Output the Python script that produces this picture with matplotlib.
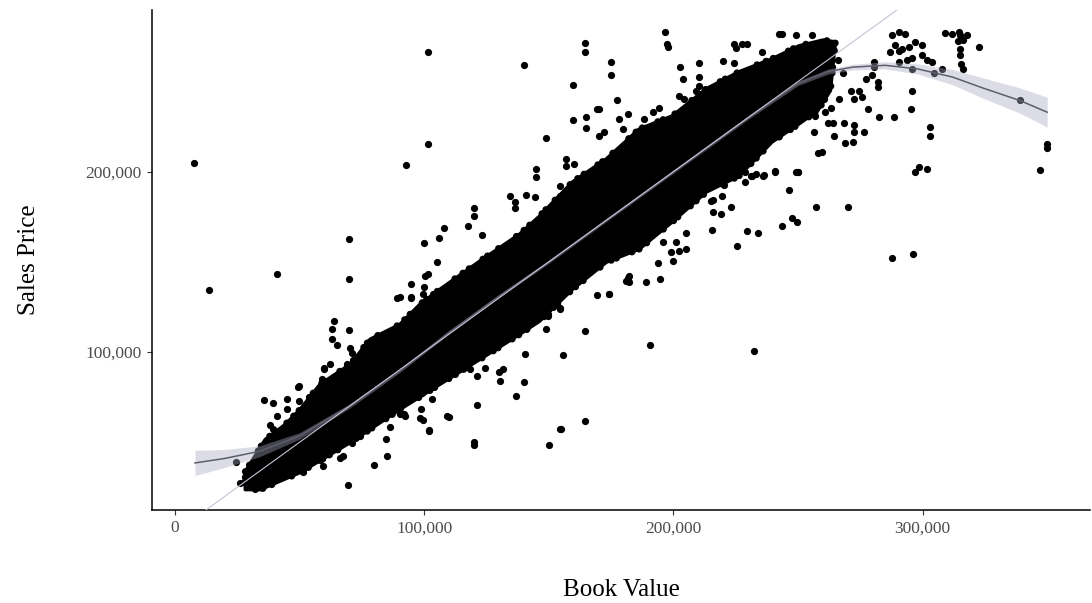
import numpy as np
import matplotlib
matplotlib.use("Agg")
import matplotlib.pyplot as plt
from matplotlib.ticker import FuncFormatter

plt.rcParams['font.family'] = ['Liberation Serif', 'DejaVu Serif']

# ---- data (values in $1,000) ----
# dense core of the cloud: upper and lower edge
core_upper_x = [28.2, 36.2, 44.2, 50.2, 58.2, 70.3, 78.3, 90.3, 98.3, 106.3, 122.3, 138.3, 146.3,
                159.5, 173.1, 186.3, 199.5, 213.2, 226.3, 239.6, 250.4, 260.0, 265.0]
core_upper_y = [33.7, 51.5, 59.8, 68.2, 82.1, 93.2, 107.1, 115.4, 126.5, 134.8, 150.4, 165.4, 175.4,
                194.3, 207.1, 223.7, 230.9, 246.0, 255.4, 262.6, 269.8, 273.0, 272.0]
core_lower_x = [28.2, 34.2, 50.2, 70.3, 90.3, 106.3, 122.3, 138.3, 146.3, 159.5, 173.1, 186.3,
                199.5, 213.2, 226.3, 239.6, 250.4, 258.0, 263.0]
core_lower_y = [23.7, 23.7, 33.2, 49.8, 68.2, 82.1, 95.9, 109.8, 117.1, 134.8, 149.8, 157.1,
                172.1, 188.7, 197.6, 216.5, 226.5, 234.0, 245.0]

# individually visible points
pts_x = [7.8, 13.8, 41.0, 69.9, 69.9, 101.5, 101.5, 92.7, 139.9, 164.7, 164.7, 196.8, 197.6,
         149.9, 154.3, 164.7, 119.9, 119.9, 190.7, 232.4, 257.2, 287.6, 296.0, 347.3, 350.1, 350.1,
         338.9, 69.5, 24.6,
         314.8, 314.2, 316.4, 322.8, 303.1, 303.1, 296.8, 298.7, 301.9, 246.4, 295.7, 295.5, 282.5,
         288.7, 277.9, 272.5, 272.5, 276.3, 272.0, 268.7, 264.4, 262.0, 264.1, 268.5, 256.5, 258.0,
         240.8, 249.9, 236.4, 233.1, 231.1,
         317.7, 314.9, 311.6, 309.0, 314.9, 314.9, 315.6, 316.4, 304.4, 307.6, 303.6, 301.6, 295.6,
         295.6, 280.4, 280.4, 277.1, 282.1, 282.1, 299.7, 297.1, 299.7, 294.4, 291.7, 289.1, 287.7,
         290.4, 293.1, 290.4, 287.1, 290.4, 293.8, 279.7, 272.4, 275.7, 274.4, 271.1, 266.4, 263.1,
         260.4, 270.0, 259.6,
         197.9, 175.0, 175.0, 202.6, 203.7, 210.1, 210.1, 177.4, 170.3, 219.9, 224.3, 224.3, 227.7,
         229.7, 225.0, 235.7, 242.4, 243.7, 249.1, 255.7, 250.0, 247.7, 249.7, 243.5, 229.7, 233.9,
         225.7, 240.7, 236.1, 228.7, 223.0, 215.3, 215.7, 178.3, 181.7, 179.7, 188.3, 191.7, 194.4,
         202.4, 204.4, 209.0, 210.4, 170.3, 172.3,
         159.6, 169.4, 148.7, 159.6, 165.0, 165.0, 157.0, 157.0, 160.3, 154.3, 154.3, 149.0, 249.3,
         205.0, 202.4, 199.0, 199.7, 193.7, 189.0, 194.7, 181.7, 182.3, 174.3, 169.4, 154.3, 149.6,
         215.7, 219.0, 215.0, 219.4, 205.0, 201.0, 195.7, 220.4, 231.7, 228.6,
         145.0, 145.0, 134.3, 136.3, 140.7, 144.3, 136.3, 119.9, 119.9, 117.6, 123.0, 107.9, 105.9,
         99.9, 105.0, 94.9, 94.9, 99.9, 100.3, 101.6, 103.6, 90.3, 164.6, 155.6, 140.3, 139.9, 137.0,
         121.0, 110.0, 101.8, 99.6, 98.7, 154.7, 174.3, 181.0, 182.3, 129.9, 131.6, 130.3, 124.3,
         121.0, 118.3, 149.0, 149.6, 154.6, 91.9, 97.0, 103.0, 99.0, 94.3,
         63.8, 62.9, 62.9, 64.9, 69.9, 49.8, 59.6, 62.2, 58.9, 35.9, 39.5, 44.9, 49.8, 44.9, 40.9,
         38.2, 39.5, 89.2, 94.9, 99.6, 70.3, 70.9, 28.2, 30.2, 31.5, 28.9, 26.2, 79.9, 84.9, 84.5,
         86.3, 101.9, 98.3, 90.3, 92.3, 51.3, 54.2, 58.2, 66.2, 70.9, 74.3, 59.3, 67.6, 49.3, 53.6,
         59.6, 68.9, 59.6, 109.0,
         253.0, 257.0, 261.0, 266.0, 268.0, 262.0, 258.0, 254.0]
pts_y = [204.9, 134.3, 143.2, 162.6, 140.4, 266.5, 215.4, 203.8, 259.3, 271.5, 266.5, 277.6, 270.9,
         48.7, 57.1, 61.5, 48.2, 49.9, 103.7, 100.4, 180.4, 152.1, 154.3, 201.0, 215.4, 213.0,
         239.9, 26.0, 39.0,
         277.5, 272.3, 272.8, 269.0, 225.0, 220.0, 200.0, 202.8, 201.5, 190.0, 244.5, 234.8, 230.2,
         230.2, 234.8, 226.0, 221.9, 222.2, 216.7, 216.0, 220.0, 227.1, 227.1, 227.1, 222.2, 210.4,
         200.0, 200.0, 198.3, 198.9, 197.8,
         276.0, 275.6, 276.4, 276.7, 268.2, 264.5, 259.8, 257.1, 254.8, 257.1, 261.1, 261.7, 263.0,
         257.1, 258.0, 260.8, 251.5, 250.0, 246.9, 270.0, 271.9, 264.5, 269.1, 268.2, 270.0, 275.6,
         277.5, 276.5, 267.2, 266.3, 260.8, 261.7, 253.4, 240.4, 241.3, 245.0, 245.0, 240.4, 235.2,
         240.4, 180.2, 211.0,
         268.9, 261.1, 253.7, 258.3, 251.5, 260.2, 252.5, 239.8, 234.8, 261.3, 260.2, 270.9, 270.9,
         270.9, 268.6, 266.3, 276.5, 276.5, 275.6, 275.6, 200.0, 174.1, 172.2, 170.0, 167.2, 166.0,
         158.9, 200.2, 197.8, 200.0, 180.6, 167.8, 184.4, 229.3, 232.1, 223.8, 229.3, 233.0, 235.2,
         242.2, 240.4, 245.0, 247.8, 220.0, 221.9,
         248.2, 234.5, 218.6, 228.7, 230.2, 224.3, 207.1, 203.3, 204.3, 192.2, 186.7, 178.3, 199.7,
         157.4, 155.9, 155.2, 150.6, 149.3, 139.1, 140.4, 141.3, 138.6, 132.1, 131.5, 124.7, 120.9,
         177.8, 176.5, 183.9, 186.7, 165.8, 161.1, 161.1, 192.6, 197.8, 194.1,
         201.5, 196.9, 186.7, 183.0, 187.2, 185.8, 179.7, 179.7, 175.6, 170.0, 164.8, 168.6, 163.2,
         160.4, 150.0, 137.6, 130.2, 135.8, 142.2, 143.2, 132.1, 130.4, 111.5, 98.2, 99.1, 83.6, 75.9,
         70.8, 64.1, 56.5, 62.2, 68.6, 57.1, 132.4, 139.4, 141.9, 88.9, 90.8, 83.9, 91.3,
         86.7, 90.4, 113.0, 120.0, 124.1, 65.4, 75.6, 73.7, 77.4, 73.7,
         117.2, 113.0, 107.4, 103.7, 112.2, 81.1, 91.3, 93.2, 84.8, 73.2, 71.5, 74.1, 72.8, 68.6, 64.4,
         59.8, 57.1, 129.8, 130.8, 132.1, 102.4, 99.7, 28.3, 29.3, 30.2, 25.6, 27.4, 37.1, 42.2, 51.9,
         58.6, 56.1, 63.6, 65.4, 64.4, 33.3, 40.4, 40.4, 41.3, 49.7, 53.3, 36.7, 42.2, 80.8, 75.2,
         79.3, 93.2, 90.4, 64.4,
         236.0, 231.0, 233.0, 262.0, 255.0, 250.0, 243.0, 238.0]

# loess smoother and its confidence half-width
smooth_x = [8, 20, 34, 50, 70, 90, 110, 130, 150, 170, 190, 210, 230, 250, 262, 272, 285, 298,
            312, 324, 339, 350]
smooth_y = [38.5, 41, 45, 53.5, 70, 89.5, 111, 131, 150, 170, 190, 210, 230, 249, 255.5, 258,
            259, 257, 252.5, 246.5, 239.5, 233]
smooth_se = [7, 5, 3, 1.8, 1.2, 1, 0.9, 0.8, 0.8, 0.8, 0.8, 0.9, 1, 1.2, 1.4, 1.6, 2, 2.8,
             4.2, 5.6, 7, 8.3]

x_ticks = [0, 100000, 200000, 300000]
y_ticks = [100000, 200000]

K = 1000.0
fig = plt.figure(figsize=(10.92, 6.03), dpi=100)
fig.patch.set_facecolor('white')
ax = fig.add_axes([0.1395, 0.1542, 0.8585, 0.829])
ax.set_facecolor('white')

# core cloud: solid body with an uneven beaded rim
poly_x = np.concatenate([np.array(core_upper_x), np.array(core_lower_x)[::-1]]) * K
poly_y = np.concatenate([np.array(core_upper_y), np.array(core_lower_y)[::-1]]) * K
ax.fill(poly_x, poly_y, color='black', lw=0, zorder=2)
ring_x = np.append(poly_x, poly_x[0])
ring_y = np.append(poly_y, poly_y[0])
ax.plot(ring_x, ring_y, color='black', lw=5.0,
        ls=(0, (0.01, 1.1, 0.01, 2.4, 0.01, 0.8, 0.01, 1.9, 0.01, 3.1, 0.01, 1.4)),
        dash_capstyle='round', zorder=2)
ax.plot(ring_x, ring_y, color='black', lw=2.5, zorder=2)
ax.scatter(np.array(pts_x) * K, np.array(pts_y) * K, s=27, color='black', linewidths=0, zorder=2)

sx = np.array(smooth_x) * K
sy = np.array(smooth_y) * K
se = np.array(smooth_se) * K
ax.fill_between(sx, sy - se, sy + se, color='#a9a9c4', alpha=0.4, lw=0, zorder=3)
ax.plot(sx, sy, color='#5e5e6c', lw=1.1, zorder=4)
ax.axline((0, 0), slope=1, color='#c4c4d6', lw=0.8, zorder=5)

ax.set_xlim(-9100, 367100)
ax.set_ylim(12400, 289600)
ax.set_xticks(x_ticks)
ax.set_yticks(y_ticks)
fmt = FuncFormatter(lambda v, p: f"{v:,.0f}")
ax.xaxis.set_major_formatter(fmt)
ax.yaxis.set_major_formatter(fmt)
ax.tick_params(axis='both', length=3.5, width=0.8, color='#333333', labelcolor='#4d4d4d',
               labelsize=12.5, pad=4)
for side in ['top', 'right']:
    ax.spines[side].set_visible(False)
for side in ['left', 'bottom']:
    ax.spines[side].set_linewidth(1.1)
    ax.spines[side].set_color('black')

ax.set_xlabel('Book Value', fontsize=18, color='black', labelpad=31)
ax.set_ylabel('Sales Price', fontsize=18, color='black', labelpad=33)

fig.savefig('out.png', dpi=100)
